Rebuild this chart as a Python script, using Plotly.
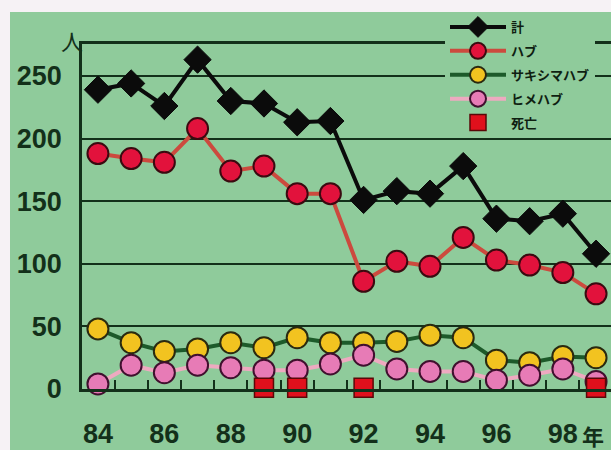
import plotly.graph_objects as go

years = list(range(1984, 2000))
x_vals = [y - 1900 for y in years]

total = [239, 244, 226, 263, 230, 228, 213, 214, 151, 158, 156, 178, 136, 134, 140, 108]
habu = [188, 184, 181, 208, 174, 178, 156, 156, 86, 102, 98, 121, 103, 99, 93, 76]
sakishima = [48, 37, 30, 32, 37, 33, 41, 37, 37, 38, 43, 41, 23, 21, 26, 25]
hime = [4, 19, 13, 19, 17, 15, 15, 20, 27, 16, 14, 14, 7, 11, 16, 6]
death_years = [89, 90, 92, 99]
deaths = [1, 1, 1, 1]

tick_vals = [84, 86, 88, 90, 92, 94, 96, 98]
tick_text = ["84", "86", "88", "90", "92", "94", "96", "98"]
y_ticks = [0, 50, 100, 150, 200, 250]

GREEN_BG = "#8fcb9b"
DARK = "#13301a"

fig = go.Figure()

fig.add_trace(go.Scatter(
    x=x_vals, y=total, name="計", mode="lines+markers", legendgroup="a",
    line=dict(color="#0b0b0b", width=4),
    marker=dict(symbol="diamond", size=21, color="#0b0b0b", line=dict(color="#0b0b0b", width=1)),
    cliponaxis=False))
fig.add_trace(go.Scatter(
    x=x_vals, y=habu, name="ハブ", mode="lines+markers", legendgroup="b",
    line=dict(color="#cc4a3e", width=4),
    marker=dict(symbol="circle", size=21, color="#e2123c", line=dict(color="#3a0a10", width=2)),
    cliponaxis=False))
fig.add_trace(go.Scatter(
    x=x_vals, y=sakishima, name="サキシマハブ", mode="lines+markers", legendgroup="c",
    line=dict(color="#1d5a2a", width=4),
    marker=dict(symbol="circle", size=21, color="#f2c320", line=dict(color="#2a2a10", width=2)),
    cliponaxis=False))
fig.add_trace(go.Scatter(
    x=x_vals, y=hime, name="ヒメハブ", mode="lines+markers", legendgroup="d",
    line=dict(color="#eeaac0", width=4),
    marker=dict(symbol="circle", size=21, color="#e77bb6", line=dict(color="#40102e", width=2)),
    cliponaxis=False))
fig.add_trace(go.Scatter(
    x=death_years, y=deaths, name="死亡", mode="markers", legendgroup="e",
    marker=dict(symbol="square", size=19, color="#e0101c", line=dict(color="#5a0808", width=1.5)),
    cliponaxis=False))

W, H = 611, 450
L, R, T, B = 82, 0, 44, 61
pw, ph = W - L - R, H - T - B

def px(xp):
    return (xp - L) / pw

def py(yp):
    return (H - B - yp) / ph

fig.update_layout(
    width=W, height=H,
    margin=dict(l=L, r=R, t=T, b=B, pad=0, autoexpand=False),
    paper_bgcolor=GREEN_BG, plot_bgcolor=GREEN_BG,
    showlegend=True,
    legend=dict(
        xref="container", yref="container",
        x=445 / W, y=1 - 12 / H, xanchor="left", yanchor="top",
        bgcolor=GREEN_BG, borderwidth=0,
        font=dict(family="Noto Sans CJK JP", size=13, color="#0f1f12", weight="bold"),
        itemwidth=56, tracegroupgap=4, itemsizing="trace",
    ),
    xaxis=dict(
        range=[83.52, 99.45],
        tickmode="array", tickvals=tick_vals, ticktext=tick_text,
        ticks="", showgrid=False, zeroline=False,
        showline=True, linecolor=DARK, linewidth=2.5, mirror=True,
        tickfont=dict(family="Liberation Sans", size=27, color=DARK, weight="bold"),
        ticklabelstandoff=19,
        minor=dict(tickvals=[v + 0.5 for v in range(84, 99)], ticks="inside",
                   ticklen=9, tickwidth=2, tickcolor=DARK, showgrid=False),
        automargin=False,
    ),
    yaxis=dict(
        range=[0, 275.5],
        tickmode="array", tickvals=y_ticks,
        ticks="", showgrid=True, gridcolor=DARK, gridwidth=1.5, zeroline=False,
        showline=True, linecolor=DARK, linewidth=2.5,
        tickfont=dict(family="Liberation Sans", size=27, color=DARK, weight="bold"),
        ticklabelstandoff=12,
        automargin=False,
    ),
    shapes=[
        dict(type="rect", xref="paper", yref="paper", x0=px(-2), x1=px(W + 2), y0=py(12), y1=py(-2),
             fillcolor="#f6f2f5", line=dict(width=0), layer="above"),
        dict(type="rect", xref="paper", yref="paper", x0=px(-2), x1=px(10), y0=py(H + 2), y1=py(-2),
             fillcolor="#f6f2f5", line=dict(width=0), layer="above"),
    ],
    annotations=[
        dict(text="人", xref="paper", yref="paper", x=px(72), y=py(40), showarrow=False,
             font=dict(family="Noto Sans CJK JP", size=22, color=DARK), xanchor="center", yanchor="middle"),
        dict(text="年", xref="x", yref="paper", x=98.92, y=py(435), showarrow=False,
             font=dict(family="Noto Sans CJK JP", size=22, color=DARK, weight="bold"),
             xanchor="center", yanchor="middle"),
    ],
)

fig.write_html(
    "out.html",
    config={"displayModeBar": False},
    post_script="document.body.style.margin='0';document.body.style.padding='0';",
)
